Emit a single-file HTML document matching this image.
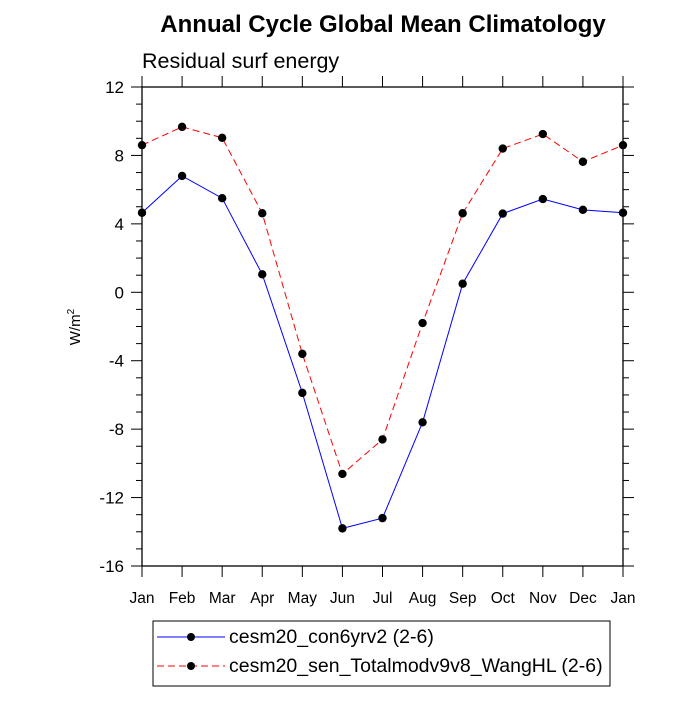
<!DOCTYPE html>
<html><head><meta charset="utf-8"><style>body{margin:0;background:#fff}svg text{font-family:"Liberation Sans",sans-serif}</style></head>
<body>
<svg id="c" width="700" height="700">
<text x="383" y="32" text-anchor="middle" font-size="24" font-weight="bold">Annual Cycle Global Mean Climatology</text>
<text x="142" y="68" font-size="21.5">Residual surf energy</text>
<text transform="translate(80,327) rotate(-90)" text-anchor="middle" font-size="15">W/m<tspan dy="-6" font-size="10">2</tspan></text>
<g id="axes"></g><g id="series"></g>
<g>
<rect x="153" y="621" width="457" height="65" fill="#fff" stroke="#000" stroke-width="1"/>
<line x1="157" y1="637" x2="225" y2="637" stroke="#0000ff"/><circle cx="191" cy="637" r="4" fill="#000"/>
<text x="229" y="643" font-size="19.5">cesm20_con6yrv2 (2-6)</text>
<line x1="157" y1="666" x2="225" y2="666" stroke="#ff0000" stroke-dasharray="7,4"/><circle cx="191" cy="666" r="4" fill="#000"/>
<text x="229" y="672" font-size="19.5">cesm20_sen_Totalmodv9v8_WangHL (2-6)</text>
</g>
</svg>
<script>
const months=["Jan","Feb","Mar","Apr","May","Jun","Jul","Aug","Sep","Oct","Nov","Dec","Jan"];
const ctrl=[4.65,6.8,5.5,1.05,-5.88,-13.8,-13.2,-7.6,0.5,4.6,5.45,4.82,4.65];
const sens=[8.6,9.67,9.03,4.62,-3.6,-10.62,-8.6,-1.8,4.62,8.4,9.25,7.63,8.6];
const yTicks=[12,8,4,0,-4,-8,-12,-16];
const L=142,R=623,T=87,B=566,ymin=-16,ymax=12;
const xs=i=>L+i*(R-L)/(months.length-1);
const ys=v=>B-(v-ymin)*(B-T)/(ymax-ymin);
const NS="http://www.w3.org/2000/svg";
function mk(t,a,p){const e=document.createElementNS(NS,t);for(const k in a)e.setAttribute(k,a[k]);p.appendChild(e);return e;}
const ax=document.getElementById('axes');
const fr=mk('rect',{x:L,y:T,width:R-L,height:B-T,fill:'none',stroke:'#000','stroke-width':1.3},ax);


for(let v=ymin;v<=ymax;v++){const maj=(v%4===0);const len=maj?11:6;const y=ys(v);
mk('line',{x1:L-len,y1:y,x2:L,y2:y,stroke:'#000'},ax);mk('line',{x1:R,y1:y,x2:R+len,y2:y,stroke:'#000'},ax);}
yTicks.forEach(v=>{const t=mk('text',{x:L-18,y:ys(v)+6,'text-anchor':'end','font-size':17},ax);t.textContent=v;

});
months.forEach((m,i)=>{const x=xs(i);mk('line',{x1:x,y1:B,x2:x,y2:B+11,stroke:'#000'},ax);mk('line',{x1:x,y1:T-11,x2:x,y2:T,stroke:'#000'},ax);
const t=mk('text',{x:x,y:B+37,'text-anchor':'middle','font-size':15.5},ax);t.textContent=m;

});
const sg=document.getElementById('series');
[[ctrl,'#0000ff','','series-ctrl'],[sens,'#ff0000','7,4','series-sens']].forEach(([d,c,da,n])=>{
const p=mk('polyline',{points:d.map((v,i)=>xs(i)+','+ys(v)).join(' '),fill:'none',stroke:c,'stroke-width':1,'stroke-dasharray':da},sg);


d.forEach((v,i)=>{const q=mk('circle',{cx:xs(i),cy:ys(v),r:4.2,fill:'#000'},sg);

});});
</script>
</body></html>
